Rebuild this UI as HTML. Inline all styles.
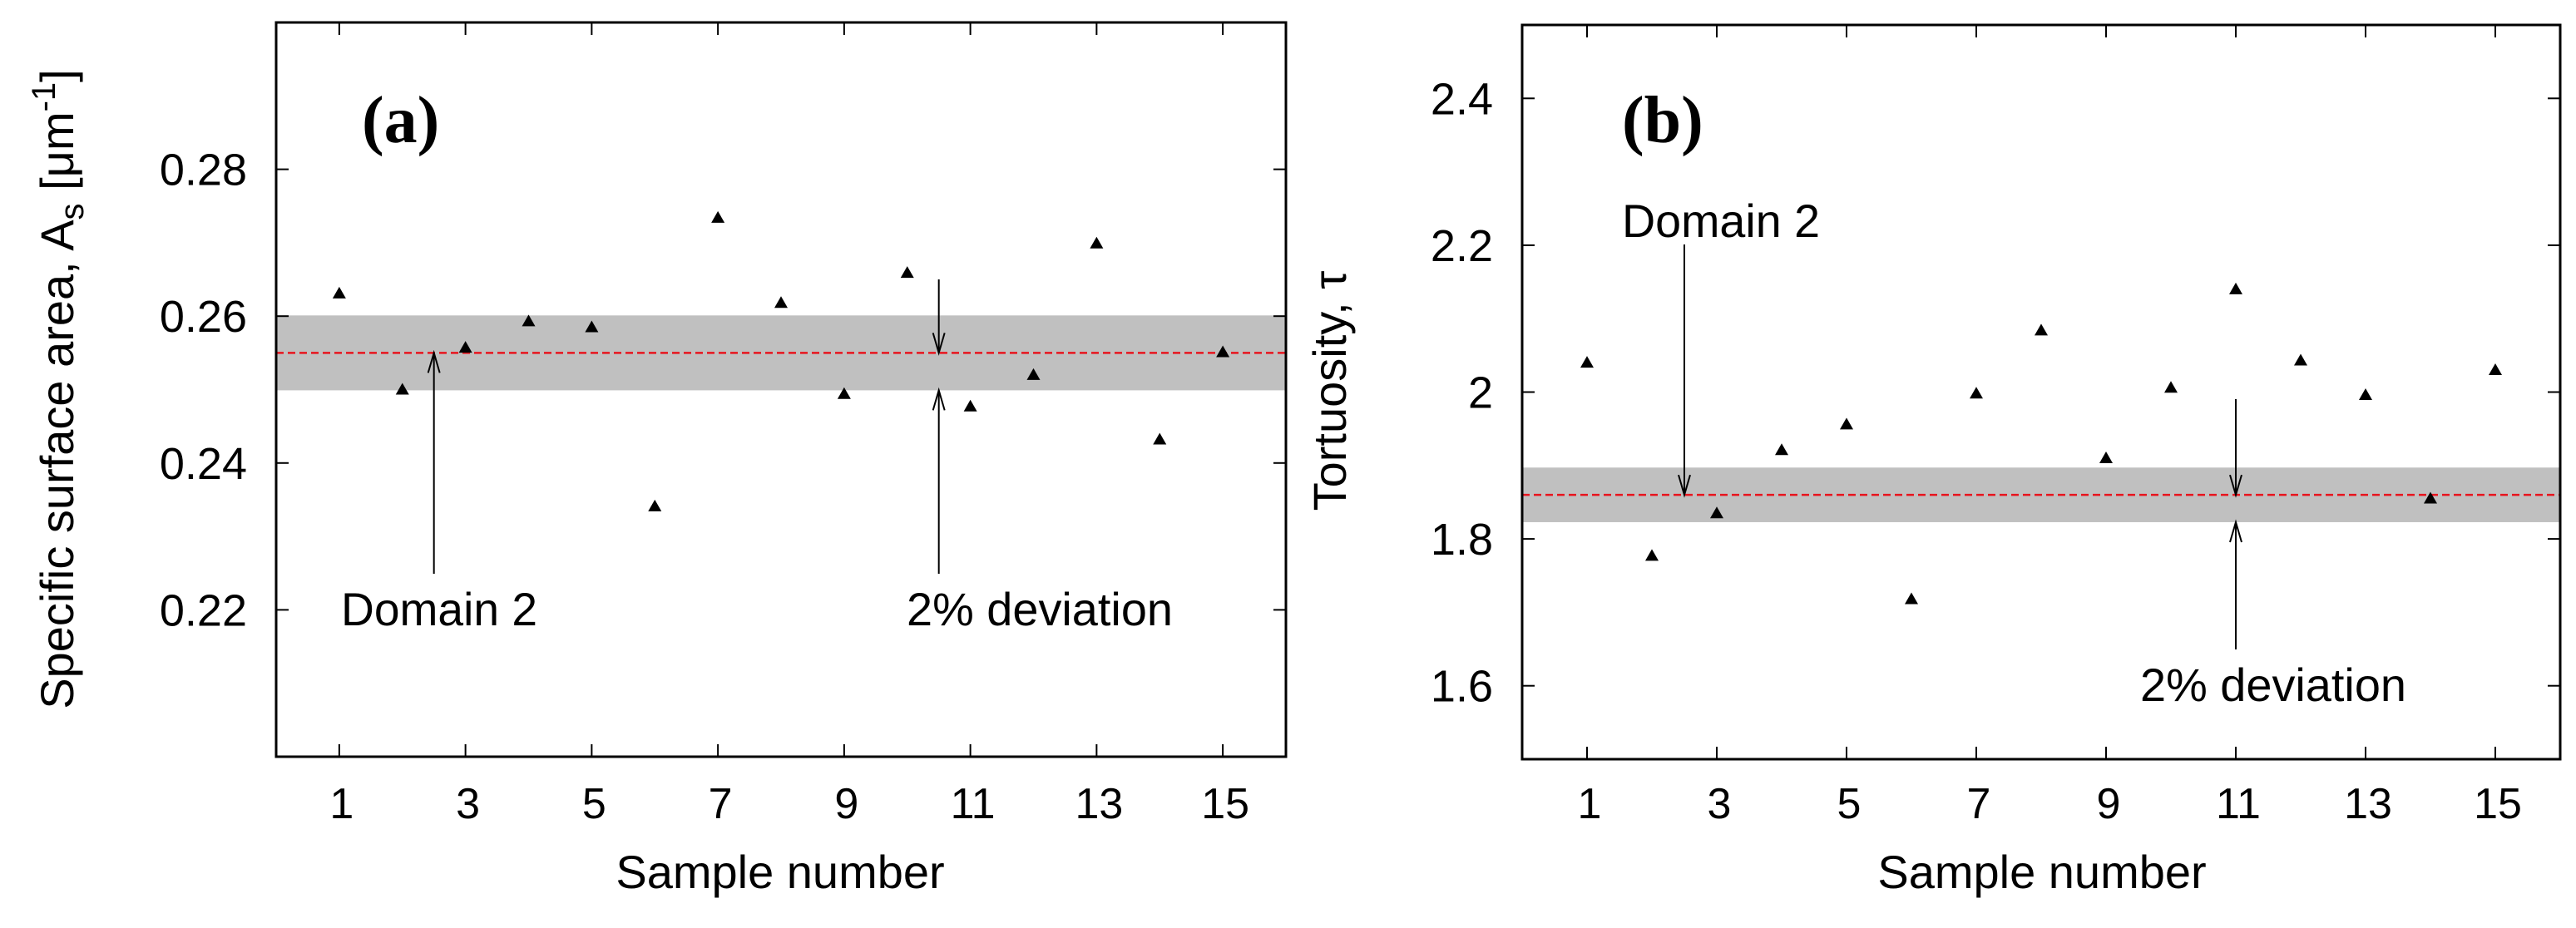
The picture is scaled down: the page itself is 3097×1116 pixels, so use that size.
<!DOCTYPE html>
<html><head><meta charset="utf-8"><style>
html,body{margin:0;padding:0;background:#fff;}
svg{display:block;font-family:"Liberation Sans",sans-serif;}
</style></head><body>
<svg id="chart" width="3097" height="1116" viewBox="0 0 3097 1116" xmlns="http://www.w3.org/2000/svg"></svg>
<script>
const samples=[1,2,3,4,5,6,7,8,9,10,11,12,13,14,15];
const surfaceArea=[0.2631,0.2500,0.2557,0.2593,0.2585,0.2341,0.2734,0.2618,0.2494,0.2659,0.2477,0.2520,0.2699,0.2432,0.2551];
const tortuosity=[2.040,1.777,1.835,1.921,1.956,1.718,1.998,2.084,1.910,2.006,2.140,2.043,1.996,1.855,2.030];
const xTicks=[1,3,5,7,9,11,13,15];
const yTicksA=[0.22,0.24,0.26,0.28];
const yTickLabelsA=["0.22","0.24","0.26","0.28"];
const yTicksB=[1.6,1.8,2.0,2.2,2.4];
const yTickLabelsB=["1.6","1.8","2","2.2","2.4"];
const meanA=0.255, meanB=1.86, deviation=0.02;

const NS="http://www.w3.org/2000/svg";
const svg=document.getElementById('chart');
function el(tag,attrs,parent,text){const e=document.createElementNS(NS,tag);for(const k in attrs)e.setAttribute(k,attrs[k]);if(text!==undefined)e.textContent=text;(parent||svg).appendChild(e);return e;}

function panel(cfg){
  const g=el('g',{});
  
  
  const X=v=>cfg.L+(v-0)/(16-0)*(cfg.R-cfg.L);
  const Y=v=>cfg.B-(v-cfg.ymin)/(cfg.ymax-cfg.ymin)*(cfg.B-cfg.T);
  // band
  const lo=cfg.mean*(1-deviation), hi=cfg.mean*(1+deviation);
  const band=el('rect',{x:cfg.L,y:Y(hi),width:cfg.R-cfg.L,height:Y(lo)-Y(hi),fill:'#c0c0c0'},g);
  
  
  const ml=el('line',{x1:cfg.L,x2:cfg.R,y1:Y(cfg.mean),y2:Y(cfg.mean),stroke:'#e8141e','stroke-width':2.5,'stroke-dasharray':'9,5'},g);
  
  
  // ticks
  xTicks.forEach(t=>{
    el('line',{x1:X(t),x2:X(t),y1:cfg.B,y2:cfg.B-15,stroke:'#000','stroke-width':2},g);
    el('line',{x1:X(t),x2:X(t),y1:cfg.T,y2:cfg.T+15,stroke:'#000','stroke-width':2},g);
    const tl=el('text',{x:X(t)+3,y:984,'font-size':52,'text-anchor':'middle'},g,String(t));
    
    
  });
  cfg.yTicks.forEach((t,i)=>{
    el('line',{x1:cfg.L,x2:cfg.L+15,y1:Y(t),y2:Y(t),stroke:'#000','stroke-width':2},g);
    el('line',{x1:cfg.R,x2:cfg.R-15,y1:Y(t),y2:Y(t),stroke:'#000','stroke-width':2},g);
    const tl=el('text',{x:cfg.L-35,y:Y(t)+19,'font-size':54,'text-anchor':'end'},g,cfg.yLabels[i]);
    
    
  });
  const fr=el('rect',{x:cfg.L,y:cfg.T,width:cfg.R-cfg.L,height:cfg.B-cfg.T,fill:'none',stroke:'#000','stroke-width':3},g);
  
  
  // points
  samples.forEach((s,i)=>{
    const cx=X(s), cy=Y(cfg.data[i]);
    const p=el('polygon',{points:`${cx},${cy-8} ${cx-8},${cy+6} ${cx+8},${cy+6}`,fill:'#000'},g);
    
    
  });
  // arrows
  function arrow(x,y1,y2,name){
    const a=el('g',{},g);
    
    
    el('line',{x1:x,x2:x,y1:y1,y2:y2,stroke:'#000','stroke-width':2},a);
    const d=y2>y1?-1:1;
    el('polyline',{points:`${x-7},${y2+d*24} ${x},${y2} ${x+7},${y2+d*24}`,fill:'none',stroke:'#000','stroke-width':2},a);
  }
  cfg.arrows.forEach(a=>arrow(X(a.x),a.y1===undefined?a.ya:Y(a.y1),Y(a.y2),a.name));
  cfg.labels.forEach(l=>{
    const t=el('text',{x:l.x,y:l.y,'font-size':56,textLength:l.w,lengthAdjust:'spacingAndGlyphs'},g,l.text);
    
    
  });
  const pl=el('text',{x:cfg.pl,y:171,'font-size':80,'font-weight':'bold','font-family':'"Liberation Serif",serif'},g,cfg.plText);
  
  
  const xt=el('text',{x:cfg.xt,y:1068,'font-size':56,'text-anchor':'middle'},g,'Sample number');
  
  
  return {X,Y,g};
}

const A=panel({name:'panel-a',L:332,R:1546,T:27,B:910,ymin:0.20,ymax:0.30,data:surfaceArea,mean:meanA,
  yTicks:yTicksA,yLabels:yTickLabelsA,pl:435,plText:'(a)',xt:938,
  arrows:[{x:2.5,ya:690,y2:meanA,name:'domain-2-arrow'},{x:10.5,ya:336,y2:meanA,name:'deviation-arrow-down'},{x:10.5,ya:690,y2:meanA*(1-deviation),name:'deviation-arrow-up'}],
  labels:[{x:410,y:752,w:236,text:'Domain 2',name:'domain-2-label'},{x:1090,y:752,w:320,text:'2% deviation',name:'deviation-label'}]});
const yta=el('text',{transform:'translate(88,468) rotate(-90)','font-size':56,'text-anchor':'middle'});


el('tspan',{},yta,'Specific surface area, A');
el('tspan',{dy:12,'font-size':40},yta,'s');
el('tspan',{dy:-12},yta,' [μm');
el('tspan',{dy:-22,'font-size':40},yta,'-1');
el('tspan',{dy:22},yta,']');

const B=panel({name:'panel-b',L:1830,R:3078,T:30,B:913,ymin:1.5,ymax:2.5,data:tortuosity,mean:meanB,
  yTicks:yTicksB,yLabels:yTickLabelsB,pl:1950,plText:'(b)',xt:2455,
  arrows:[{x:2.5,ya:294,y2:meanB,name:'domain-2-arrow'},{x:11,ya:480,y2:meanB,name:'deviation-arrow-down'},{x:11,ya:781,y2:meanB*(1-deviation),name:'deviation-arrow-up'}],
  labels:[{x:1950,y:285,w:238,text:'Domain 2',name:'domain-2-label'},{x:2573,y:843,w:320,text:'2% deviation',name:'deviation-label'}]});
const ytb=el('text',{transform:'translate(1618,470) rotate(-90)','font-size':56,'text-anchor':'middle'},svg,'Tortuosity, τ');


</script>
</body></html>
